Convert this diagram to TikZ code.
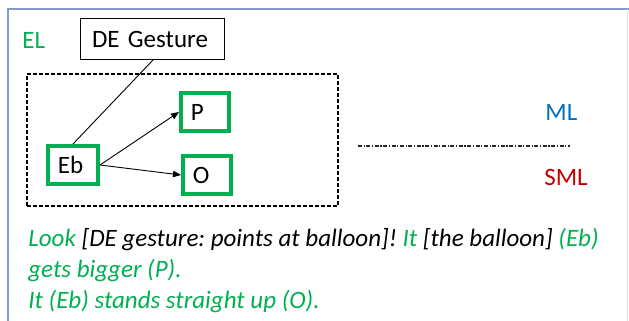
\documentclass[tikz,border=0pt]{standalone}
\usepackage{fontspec}
\setmainfont{Carlito}
\usetikzlibrary{
    arrows.meta,
    positioning
}
\definecolor{elgreen}{RGB}{0,176,80}
\definecolor{mlblue}{RGB}{0,112,192}
\definecolor{smlred}{RGB}{192,0,0}
\definecolor{framegray}{RGB}{130,155,200}
\newcommand{\figfont}{\fontsize{12.5pt}{15pt}\selectfont\frenchspacing}
\tikzset{
    % --- Green element box (Eb, P, O) ---
    element/.style = {
        rectangle, draw=elgreen, line width=2pt,
        minimum height=19pt, inner xsep=5pt,
        text width=15pt, align=left,
        font=\figfont
    },
    % --- Gesture box (thin black) ---
    gesture/.style = {
        rectangle, draw, line width=0.5pt,
        minimum height=20.5pt, inner xsep=5.5pt,
        text width=61pt, align=left,
        font=\figfont
    },
    % --- Dashed enclosure around the event ---
    event frame/.style = {
        rectangle, draw, line width=0.55pt,
        dash pattern=on 2pt off 1pt,
        inner sep=0pt
    },
    % --- Level labels (EL, ML, SML) ---
    level/.style = {
        font=\figfont, anchor=west, inner sep=0pt
    },
    % --- Level separator ---
    level sep/.style = {
        line width=0.6pt, black!85,
        dash pattern=on 2pt off 0.8pt on 0.6pt off 0.8pt
    },
    % --- Relation arrow ---
    rel arrow/.style = {
        -{Triangle[length=4pt,width=3.2pt]}, line width=0.45pt
    },
    % --- Example sentence line ---
    sentence/.style = {
        font=\figfont\itshape, anchor=base west, inner sep=0pt,
        text=elgreen
    }
}

\begin{document}
\begin{tikzpicture}[x=0.5pt, y=-0.5pt]

\useasboundingbox (0,0) rectangle (629,321);

% ---------------------------------------------------------
% Outer frame
% ---------------------------------------------------------
\draw[framegray, line width=1pt] (8,321) -- (8,9) -- (629,9);
\draw[black!12, line width=0.5pt] (628,9) -- (628,321);

% ---------------------------------------------------------
% Event level
% ---------------------------------------------------------
\node[level, text=elgreen] (EL) at (22,40) {EL};
\node[gesture] (DEGesture) at (153,39) {DE Gesture};

\node[event frame, minimum width=155.5pt, minimum height=66pt] (EventFrame) at (182.5,140) {};

\node[element] (Eb) at (73,165) {Eb};
\node[element, text width=14pt] (P) at (205,112) {P};
\node[element, text width=14pt] (O) at (207,175) {O};

\draw[line width=0.45pt] (DEGesture.south) -- (Eb.north);
\draw[rel arrow] (Eb.east) -- (P.west);
\draw[rel arrow] (Eb.east) -- (O.west);

% ---------------------------------------------------------
% Micro and sub-micro levels
% ---------------------------------------------------------
\node[level, text=mlblue] (ML) at (545,112) {ML};
\node[level, text=smlred] (SML) at (544,177) {SML};

\coordinate (SepL) at (358,146);
\coordinate (SepR) at (570,146);
\draw[level sep] (SepL) -- (SepR);

% ---------------------------------------------------------
% Example sentence
% ---------------------------------------------------------
\node[sentence] (LineLook) at (28,247) {Look \textcolor{black}{[DE gesture: points at balloon]!} It \textcolor{black}{[the balloon]} (Eb)};
\node[sentence] (LineBigger) at (28,278) {gets bigger (P).};
\node[sentence] (LineStraight) at (28,309) {It (Eb) stands straight up (O).};

\end{tikzpicture}
\end{document}
